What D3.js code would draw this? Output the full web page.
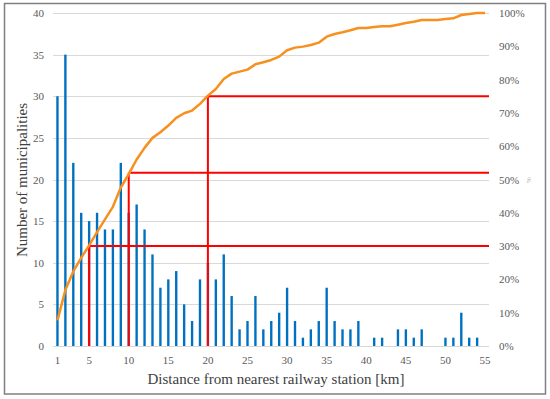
<!DOCTYPE html>
<html>
<head>
<meta charset="utf-8">
<script src="https://cdn.jsdelivr.net/npm/d3@7"></script>
<style>
  body { margin: 0; background: #fff; }
</style>
</head>
<body>
<div id="chart"></div>
<script>
// distance categories [km]
var distances = d3.range(1, 56)

// number of municipalities per km
var counts = [30, 35, 22, 16, 15, 16, 14, 14, 22, 16,
              17, 14, 11, 7, 8, 9, 5, 3, 8, 10,
              8, 11, 6, 2, 3, 6, 2, 3, 4, 7,
              3, 1, 2, 3, 7, 3, 2, 2, 3, 0,
              1, 1, 0, 2, 2, 1, 2, 0, 0, 1,
              1, 4, 1, 1, 0]

// cumulative share [%]
var cumulative = [7.7, 16.8, 22.4, 26.5, 30.2, 34.2, 38.0, 41.8, 47.6, 51.6,
                  56.0, 59.5, 62.5, 64.2, 66.2, 68.5, 69.9, 70.7, 72.7, 75.2,
                  77.2, 80.2, 81.8, 82.4, 83.0, 84.6, 85.2, 85.9, 86.9, 88.8,
                  89.6, 89.9, 90.4, 91.1, 92.9, 93.7, 94.2, 94.8, 95.5, 95.5,
                  95.8, 96.0, 96.0, 96.5, 97.0, 97.4, 97.9, 97.9, 97.9, 98.2,
                  98.4, 99.4, 99.7, 100, 100]

// reference lines (km, %)
var refLines = [[5, 30], [10, 52], [20, 75]]

var xTicks = [1, 5, 10, 15, 20, 25, 30, 35, 40, 45, 50, 55]
var yTicks = [0, 5, 10, 15, 20, 25, 30, 35, 40]
var pTicks = [0, 10, 20, 30, 40, 50, 60, 70, 80, 90, 100]

var FONT = '"Liberation Serif", "Times New Roman", serif'

var W = 550, H = 399
var m = {left: 53.5, right: 489, top: 13, bottom: 346}

var svg = d3.select("#chart").append("svg")
    .attr("width", W)
    .attr("height", H)
    .style("font-family", FONT)

// outer frame
svg.append("rect")
    .attr("x", 4.5).attr("y", 3.5)
    .attr("width", 541).attr("height", 390.5)
    .attr("fill", "none")
    .attr("stroke", "#7f7f7f")
    .attr("stroke-width", 1.5)

var x = d3.scaleBand()
    .domain(distances)
    .range([m.left, m.right])
    .paddingInner(0.7)
    .paddingOuter(0.35)

var cx = function (d) { return x(d) + x.bandwidth() / 2 }

var y = d3.scaleLinear().domain([0, 40]).range([m.bottom, m.top])
var yP = d3.scaleLinear().domain([0, 100]).range([m.bottom, m.top])

// gridlines
svg.append("g")
    .selectAll("line")
    .data(yTicks)
    .enter().append("line")
    .attr("x1", m.left - 0.5)
    .attr("x2", m.right)
    .attr("y1", function (d) { return Math.round(y(d)) + 0.5 })
    .attr("y2", function (d) { return Math.round(y(d)) + 0.5 })
    .attr("stroke", "#d9d9d9")
    .attr("stroke-width", 1)

function styleAxis(g) {
    g.select(".domain").remove()
    g.attr("font-family", FONT)
    g.selectAll("text")
        .attr("fill", "#595959")
        .style("font-family", FONT)
        .style("font-size", "11px")
}

// left axis
svg.append("g")
    .attr("transform", "translate(44,0)")
    .call(d3.axisLeft(y).tickValues(yTicks).tickSize(0).tickPadding(0))
    .call(styleAxis)

// right axis
svg.append("g")
    .attr("transform", "translate(499,0)")
    .call(d3.axisRight(yP).tickValues(pTicks).tickSize(0).tickPadding(0)
        .tickFormat(function (d) { return d + "%" }))
    .call(styleAxis)

// bottom axis
svg.append("g")
    .attr("transform", "translate(0,356)")
    .call(d3.axisBottom(x).tickValues(xTicks).tickSize(0).tickPadding(0))
    .call(styleAxis)

// bars
svg.append("g")
    .selectAll("rect")
    .data(distances)
    .enter().append("rect")
    .attr("x", function (d) { return x(d) })
    .attr("y", function (d, i) { return y(counts[i]) })
    .attr("width", x.bandwidth())
    .attr("height", function (d, i) { return y(0) - y(counts[i]) })
    .attr("fill", "#0070c0")

// reference lines
var ref = svg.append("g")
    .attr("stroke", "#ff0000")
    .attr("stroke-width", 2)
    .attr("fill", "none")

ref.selectAll(".v")
    .data(refLines)
    .enter().append("line")
    .attr("x1", function (d) { return cx(d[0]) })
    .attr("x2", function (d) { return cx(d[0]) })
    .attr("y1", y(0))
    .attr("y2", function (d) { return yP(d[1]) })

ref.selectAll(".h")
    .data(refLines)
    .enter().append("line")
    .attr("x1", function (d) { return cx(d[0]) })
    .attr("x2", m.right)
    .attr("y1", function (d) { return yP(d[1]) })
    .attr("y2", function (d) { return yP(d[1]) })

// cumulative line
var line = d3.line()
    .x(function (d) { return cx(d) })
    .y(function (d, i) { return yP(cumulative[i]) })

svg.append("path")
    .datum(distances)
    .attr("d", line)
    .attr("fill", "none")
    .attr("stroke", "#f7901e")
    .attr("stroke-width", 2.5)
    .attr("stroke-linejoin", "round")

// axis titles
svg.append("text")
    .attr("x", 276)
    .attr("y", 384)
    .attr("text-anchor", "middle")
    .attr("fill", "#404040")
    .style("font-size", "15px")
    .text("Distance from nearest railway station [km]")

svg.append("text")
    .attr("transform", "translate(27,180) rotate(-90)")
    .attr("text-anchor", "middle")
    .attr("fill", "#404040")
    .style("font-size", "15px")
    .text("Number of municipalities")

svg.append("text")
    .attr("transform", "translate(531,180) rotate(-90)")
    .attr("text-anchor", "middle")
    .attr("fill", "#aaa")
    .style("font-size", "7px")
    .text("%")
</script>
</body>
</html>
